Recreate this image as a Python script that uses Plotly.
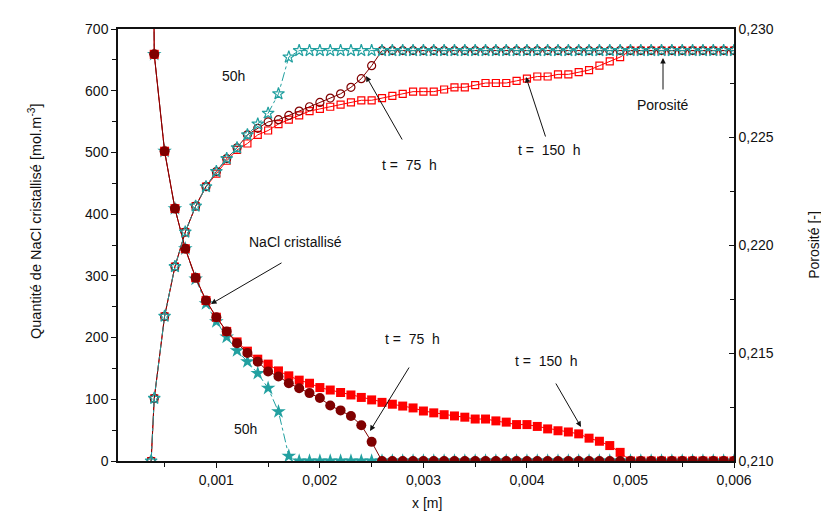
import plotly.graph_objects as go

# ---------------- data ----------------
X = [0.0004, 0.0005, 0.0006, 0.0007, 0.0008, 0.0009, 0.0010, 0.0011, 0.0012, 0.0013,
     0.0014, 0.0015, 0.0016, 0.0017, 0.0018, 0.0019, 0.0020, 0.0021, 0.0022, 0.0023,
     0.0024, 0.0025, 0.0026, 0.0027, 0.0028, 0.0029, 0.0030, 0.0031, 0.0032, 0.0033,
     0.0034, 0.0035, 0.0036, 0.0037, 0.0038, 0.0039, 0.0040, 0.0041, 0.0042, 0.0043,
     0.0044, 0.0045, 0.0046, 0.0047, 0.0048, 0.0049, 0.0050, 0.0051, 0.0052, 0.0053,
     0.0054, 0.0055, 0.0056, 0.0057, 0.0058, 0.0059, 0.0060]

# steep entry of the curves (off-scale / bottom start)
nacl_edge_x = 0.00039
nacl_edge_y = 900
por_edge_x = 0.00037
por_edge_y = 0.210

nacl_50h = [659, 502, 409, 344, 295, 255, 226, 201, 179, 161, 142, 118, 80, 8,
            0, 0, 0, 0, 0, 0, 0, 0, 0, 0, 0, 0, 0, 0, 0, 0, 0, 0, 0, 0, 0, 0,
            0, 0, 0, 0, 0, 0, 0, 0, 0, 0, 0, 0, 0, 0, 0, 0, 0, 0, 0, 0, 0]
nacl_75h = [659, 502, 409, 344, 297, 260, 233, 210, 191, 175, 161, 145, 137, 126,
            118, 110, 102, 90, 82, 73, 58, 31,
            0, 0, 0, 0, 0, 0, 0, 0, 0, 0, 0, 0, 0, 0, 0, 0, 0, 0, 0, 0, 0, 0,
            0, 0, 0, 0, 0, 0, 0, 0, 0, 0, 0, 0, 0]
nacl_150h = [659, 502, 409, 344, 297, 260, 233, 210, 193, 178, 165, 157, 146, 138,
             131, 126, 119, 115, 111, 107, 103, 99, 95, 92, 89, 86, 81, 78, 75, 73,
             71, 68, 68, 65, 63, 59, 59, 56, 52, 49, 47, 44, 37, 32, 25, 14,
             0, 0, 0, 0, 0, 0, 0, 0, 0, 0, 0]

por_50h = [0.2129, 0.2167, 0.2190, 0.2206, 0.2218, 0.2227, 0.2234, 0.2240, 0.2245,
           0.2251, 0.2256, 0.2261, 0.2270, 0.2287,
           0.2290, 0.2290, 0.2290, 0.2290, 0.2290, 0.2290, 0.2290, 0.2290, 0.2290,
           0.2290, 0.2290, 0.2290, 0.2290, 0.2290, 0.2290, 0.2290, 0.2290, 0.2290,
           0.2290, 0.2290, 0.2290, 0.2290, 0.2290, 0.2290, 0.2290, 0.2290, 0.2290,
           0.2290, 0.2290, 0.2290, 0.2290, 0.2290, 0.2290, 0.2290, 0.2290, 0.2290,
           0.2290, 0.2290, 0.2290, 0.2290, 0.2290, 0.2290, 0.2290]
por_75h = [0.2129, 0.2167, 0.2190, 0.2206, 0.2218, 0.2227, 0.2234, 0.2240, 0.2245,
           0.2251, 0.2254, 0.2257, 0.2258, 0.2260, 0.2262, 0.2264, 0.2266, 0.2268,
           0.2270, 0.2273, 0.2277, 0.2283,
           0.2290, 0.2290, 0.2290, 0.2290, 0.2290, 0.2290, 0.2290, 0.2290, 0.2290,
           0.2290, 0.2290, 0.2290, 0.2290, 0.2290, 0.2290, 0.2290, 0.2290, 0.2290,
           0.2290, 0.2290, 0.2290, 0.2290, 0.2290, 0.2290, 0.2290, 0.2290, 0.2290,
           0.2290, 0.2290, 0.2290, 0.2290, 0.2290, 0.2290, 0.2290, 0.2290]
por_150h = [0.2129, 0.2167, 0.2190, 0.2206, 0.2218, 0.2227, 0.2233, 0.2239, 0.2244,
            0.2247, 0.2251, 0.2253, 0.2256, 0.2258, 0.2260, 0.2262, 0.2263, 0.2264,
            0.2265, 0.2266, 0.2267, 0.2267, 0.2268, 0.2269, 0.2270, 0.2271, 0.2271,
            0.2271, 0.2272, 0.2273, 0.2273, 0.2274, 0.2275, 0.2275, 0.2275, 0.2276,
            0.2277, 0.2278, 0.2278, 0.2279, 0.2279, 0.2280, 0.2281, 0.2283, 0.2285,
            0.2287,
            0.2290, 0.2290, 0.2290, 0.2290, 0.2290, 0.2290, 0.2290, 0.2290, 0.2290,
            0.2290, 0.2290]

x_ticks = [0.001, 0.002, 0.003, 0.004, 0.005, 0.006]
y_ticks = [0, 100, 200, 300, 400, 500, 600, 700]
y2_ticks = [0.210, 0.215, 0.220, 0.225, 0.230]

# ---------------- styles ----------------
TEAL = "#22A0A0"
DARK = "#800000"
RED = "#FF0000"
FONT = "Arial, Liberation Sans, sans-serif"
NB = "\u00a0"

fig = go.Figure()

def nacl(y, color, symbol, size, dash, name):
    fig.add_trace(go.Scatter(
        x=[nacl_edge_x] + X, y=[nacl_edge_y] + y, mode="lines+markers", name=name,
        line=dict(color=color, width=1, dash=dash),
        marker=dict(symbol=symbol, size=size, color=color, line=dict(width=0)),
        showlegend=False))

def poro(y, color, symbol, size, dash, name):
    fig.add_trace(go.Scatter(
        x=[por_edge_x] + X, y=[por_edge_y] + y, mode="lines+markers", name=name,
        yaxis="y2",
        line=dict(color=color, width=1, dash=dash),
        marker=dict(symbol=symbol, size=size, color=color, line=dict(width=1.2, color=color)),
        showlegend=False))

nacl(nacl_50h, TEAL, "star", 11, "dashdot", "NaCl 50h")
nacl(nacl_150h, RED, "square", 9, "solid", "NaCl 150h")
nacl(nacl_75h, DARK, "circle", 10, "solid", "NaCl 75h")
poro(por_150h, RED, "square-open", 7, "solid", "Porosité 150h")
poro(por_75h, DARK, "circle-open", 8, "solid", "Porosité 75h")
poro(por_50h, TEAL, "star-open", 9, "dashdot", "Porosité 50h")

# ---------------- layout ----------------
L, R, T, B = 110, 726, 21, 453
W, H = 829, 516

def pp(px, py):
    return (px - L) / (R - L), (B - py) / (B - T)

annotations = []

def text(s, px, py, size=14):
    xp, yp = pp(px, py)
    annotations.append(dict(text=s, x=xp, y=yp, xref="paper", yref="paper",
                            showarrow=False, font=dict(family=FONT, size=size, color="#111"),
                            xanchor="center", yanchor="middle"))

def arrow(hx, hy, tx, ty):
    xp, yp = pp(hx, hy)
    annotations.append(dict(text="", x=xp, y=yp, xref="paper", yref="paper",
                            ax=tx - hx, ay=ty - hy, showarrow=True,
                            arrowhead=2, arrowsize=1.1, arrowwidth=1, arrowcolor="#111"))

text("50h", 225, 68)
text("50h", 237, 421)
text("NaCl cristallisé", 287, 234)
text("t =" + NB + " 75" + NB + " h", 401, 157)
text("t =" + NB + " 150" + NB + " h", 541, 142)
text("Porosité", 655, 97)
text("t =" + NB + " 75" + NB + " h", 404, 331)
text("t =" + NB + " 150" + NB + " h", 538, 353)

arrow(203, 296, 275, 254)
arrow(358, 68, 395, 133)
arrow(518, 69, 538, 130)
arrow(655, 50, 655, 83)
arrow(362, 423, 402, 358)
arrow(573, 419, 547, 374)

# axis titles
xp, yp = pp(27, 214)
annotations.append(dict(text="Quantité de NaCl cristallisé [mol.m<sup>-3</sup>]",
                        x=xp, y=yp, xref="paper", yref="paper", showarrow=False,
                        textangle=-90, font=dict(family=FONT, size=14.5, color="#111"),
                        xanchor="center", yanchor="middle"))
xp, yp = pp(419, 495)
annotations.append(dict(text="x [m]", x=xp, y=yp, xref="paper", yref="paper",
                        showarrow=False, font=dict(family=FONT, size=14, color="#111"),
                        xanchor="center", yanchor="middle"))

axis_common = dict(showline=True, linecolor="#111", linewidth=1.5, showgrid=False,
                   zeroline=False, tickfont=dict(family=FONT, size=14, color="#111"),
                   tickcolor="#111", ticklen=5, tickwidth=1.2)

fig.update_layout(
    width=W, height=H,
    margin=dict(l=L, r=W - R, t=T, b=H - B),
    plot_bgcolor="white", paper_bgcolor="white",
    separators=",.",
    xaxis=dict(range=[0.00005, 0.006], tickvals=x_ticks, tickformat=".3f",
               ticks="outside", mirror=True,
               minor=dict(dtick=0.0005, tick0=0, ticks="outside", ticklen=4,
                          tickcolor="#111", tickwidth=1.2),
               **axis_common),
    yaxis=dict(range=[0, 700], tickvals=y_ticks, ticks="outside",
               minor=dict(dtick=50, tick0=0, ticks="outside", ticklen=4,
                          tickcolor="#111", tickwidth=1.2),
               **axis_common),
    yaxis2=dict(range=[0.21, 0.23], tickvals=y2_ticks, tickformat=".3f",
                overlaying="y", side="right", ticks="inside",
                title=dict(text="Porosité [-]", standoff=36,
                           font=dict(family=FONT, size=14, color="#111")),
                minor=dict(dtick=0.0025, tick0=0.21, ticks="inside", ticklen=4,
                           tickcolor="#111", tickwidth=1.2),
                **axis_common),
    annotations=annotations,
    showlegend=False,
)

fig.write_html("out.html")
